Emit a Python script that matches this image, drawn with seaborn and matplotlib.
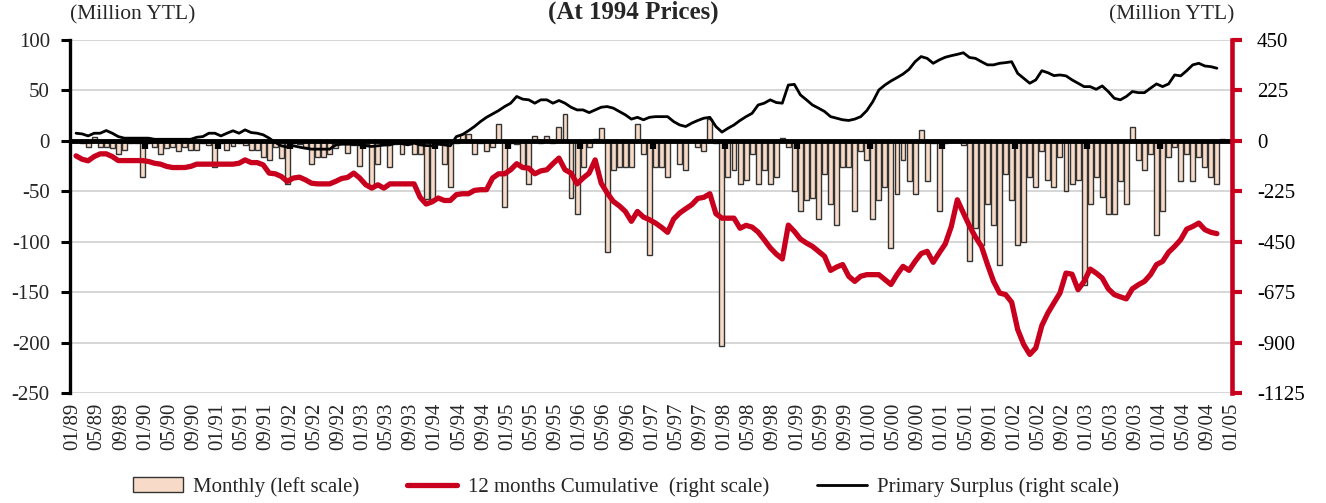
import numpy as np
import pandas as pd
import matplotlib.pyplot as plt
import seaborn as sns
from matplotlib.patches import Patch
from matplotlib.lines import Line2D

nan = np.nan

# monthly balance, left scale (01/89 - 11/04)
monthly = [
    -1, -2, -6, 4, -6, -6, -7, -13, -9, -2, -2, -36,          # 1989
    -2, -6, -13, -7, -6, -10, -6, -9, -9, -2, -4, -26,        # 1990
    -2, -9, -5, -2, -4, -9, -9, -16, -19, -6, -17, -43,       # 1991
    -2, -3, -6, -23, -16, -16, -13, -7, -2, -12, -4, -25,     # 1992
    -3, -46, -23, -2, -26, -3, -13, -3, -13, -13, -58, -58,   # 1993
    -2, -23, -46, -2, 7, 7, -13, -2, -10, -6, 17, -66,        # 1994
    -2, -3, -27, -43, 5, -2, 5, -2, 14, 27, -57, -73,         # 1995
    -26, -6, 2, 13, -110, -29, -26, -26, -26, 17, -13, -113,  # 1996
    -26, -26, -36, -1, -23, -29, -1, -6, -10, 22, -2, -203,   # 1997
    -36, -29, -43, -39, -13, -43, -29, -43, -36, 3, -6, -50,  # 1998
    -70, -59, -57, -77, -33, -63, -83, -26, -26, -70, -10, -19,   # 1999
    -77, -59, -46, -106, -53, -19, -40, -53, 11, -40, -2, -70,    # 2000
    -2, -1, -1, -4, -119, -86, -103, -63, -83, -123, -33, -59,    # 2001
    -103, -100, -36, -46, -10, -39, -46, -16, -50, -43, -39, -143,  # 2002
    -63, -36, -56, -73, -73, -40, -63, 14, -19, -29, -13, -93,    # 2003
    -70, -16, -6, -40, -13, -40, -16, -26, -36, -43, 2,           # 2004
]

# 12 months cumulative, right scale
cumulative = [
    -67, -82, -89, -70, -58, -58, -70, -88, -88, -88, -88, -88,
    -92, -100, -104, -114, -119, -119, -119, -114, -104, -104, -104, -104,
    -104, -104, -104, -100, -85, -97, -97, -107, -144, -147, -159, -181,
    -166, -162, -174, -189, -192, -192, -192, -181, -168, -163, -144, -166,
    -196, -211, -196, -211, -192, -192, -192, -192, -192, -252, -282, -272,
    -255, -266, -266, -240, -236, -236, -221, -218, -218, -166, -147, -147,
    -129, -102, -119, -122, -147, -134, -129, -102, -77, -129, -144, -192,
    -166, -144, -85, -189, -233, -270, -290, -315, -359, -315, -340, -352,
    -367, -386, -408, -349, -322, -303, -285, -257, -252, -236, -325, -345,
    -345, -345, -390, -377, -385, -407, -441, -477, -505, -527, -376, -404,
    -438, -456, -471, -493, -515, -578, -563, -552, -604, -627, -604, -597,
    -597, -597, -619, -641, -597, -560, -578, -538, -503, -493, -542, -500,
    -460, -382, -263, -322, -379, -429, -471, -552, -627, -679, -686, -720,
    -842, -909, -953, -924, -824, -768, -723, -679, -590, -595, -664, -627,
    -572, -590, -612, -660, -686, -696, -705, -660, -642, -627, -597, -552,
    -538, -497, -471, -441, -394, -382, -367, -396, -408, -414, nan,
]

# primary surplus, right scale
surplus = [
    34, 31, 22, 34, 34, 46, 34, 19, 12, 12, 12, 12,
    12, 7, 7, 7, 7, 7, 7, 7, 16, 19, 34, 34,
    22, 34, 45, 34, 49, 37, 34, 27, 12, -7, -22, -28,
    -22, -28, -33, -37, -37, -37, -37, -19, -15, -15, -15, -18,
    -22, -25, -22, -19, -18, -10, -13, -18, -10, -18, -21, -22,
    -15, -18, -22, 19, 28, 45, 64, 86, 105, 120, 135, 153,
    168, 198, 186, 183, 168, 183, 183, 168, 180, 168, 150, 138,
    138, 126, 138, 150, 153, 146, 131, 116, 97, 105, 94, 105,
    108, 108, 108, 86, 71, 64, 79, 91, 101, 105, 64, 39,
    56, 71, 91, 108, 123, 160, 168, 183, 171, 168, 249, 252,
    205, 183, 160, 146, 131, 108, 101, 94, 91, 97, 108, 135,
    175, 227, 249, 267, 282, 298, 319, 353, 376, 368, 346, 361,
    373, 380, 386, 393, 372, 368, 353, 339, 339, 346, 349, 353,
    301, 279, 257, 272, 313, 304, 291, 294, 290, 272, 257, 242,
    242, 230, 245, 220, 190, 183, 198, 220, 215, 215, 235, 254,
    242, 254, 294, 290, 313, 339, 346, 334, 331, 324, nan,
]

tick_labels = pd.date_range('1989-01', '2005-01', freq='4MS').strftime('%m/%y').tolist()

df = pd.DataFrame({
    'pos': np.arange(len(monthly)) + 0.5,
    'monthly': monthly,
    'cumulative': cumulative,
    'surplus': surplus,
})

BAR = '#F7DBC8'
EDGE = '#333333'
RED = '#C8001E'
GRID = '#D3D3D3'

sns.set_style('white')
plt.rcParams['font.family'] = ['Liberation Serif', 'DejaVu Serif']
plt.rcParams['axes.unicode_minus'] = False

fig = plt.figure(figsize=(13.26, 5.03), dpi=100)
ax = fig.add_axes([0.0528, 0.2187, 0.8763, 0.7018])

sns.barplot(data=df, x='pos', y='monthly', native_scale=True, color=BAR,
            saturation=1, edgecolor=EDGE, linewidth=1.0, width=0.82,
            errorbar=None, ax=ax, zorder=2)

ax.set_xlim(-0.5, 192)
ax.set_ylim(-250, 100)
ax.set_yticks(np.arange(-250, 101, 50))
ax.set_xticks(np.arange(0, 193, 4))
ax.set_xticklabels(tick_labels, rotation=90, fontsize=15)
ax.set_xticks(np.arange(0, 193, 12), minor=True)
ax.set_xlabel('')
ax.set_ylabel('')
ax.set_axisbelow(True)
ax.grid(axis='y', which='major', color=GRID, lw=1.3)
ax.grid(axis='x', which='minor', color=GRID, lw=1.3)
ax.grid(axis='x', which='major', visible=False)
ax.tick_params(axis='x', which='both', length=0, pad=7)
ax.tick_params(axis='y', direction='out', length=6.5, width=2.2, pad=8,
               labelsize=15, color='black')
for s in ['top', 'right', 'bottom']:
    ax.spines[s].set_visible(False)
ax.spines['left'].set_linewidth(2.4)
ax.spines['left'].set_color('black')

# category axis at zero with yearly tick marks
ax.axhline(0, color='black', lw=3.5, zorder=3)
ax.vlines(np.arange(12, 192, 12), -8, 0, color='black', lw=4.5, zorder=3)

ax2 = ax.twinx()
sns.lineplot(data=df, x='pos', y='cumulative', ax=ax2, color=RED, linewidth=3.8)
sns.lineplot(data=df, x='pos', y='surplus', ax=ax2, color='black', linewidth=2)
ax2.set_ylim(-1125, 450)
ax2.set_yticks(np.arange(-1125, 451, 225))
ax2.set_ylabel('')
ax2.set_xlim(-0.5, 192)
ax2.tick_params(axis='y', direction='out', length=7, width=3, color=RED,
                labelcolor='black', pad=11, labelsize=15)
for s in ['top', 'left', 'bottom']:
    ax2.spines[s].set_visible(False)
ax2.spines['right'].set_linewidth(3.3)
ax2.spines['right'].set_color(RED)

fig.text(133 / 1326, 1 - 15 / 503, '(Million YTL)', ha='center', va='center', fontsize=15.5)
fig.text(1172 / 1326, 1 - 15 / 503, '(Million YTL)', ha='center', va='center', fontsize=15.5)
fig.text(633 / 1326, 1 - 19 / 503, '(At 1994 Prices)', ha='center', va='baseline',
         fontsize=18, fontweight='bold')

handles = [
    Patch(facecolor=BAR, edgecolor=EDGE, linewidth=1.0),
    Line2D([], [], color=RED, lw=3.8),
    Line2D([], [], color='black', lw=2),
]
labels = ['Monthly (left scale)', '12 months Cumulative  (right scale)',
          'Primary Surplus (right scale)']
fig.legend(handles, labels, loc='center', bbox_to_anchor=(0.472, 0.032), ncol=3,
           frameon=False, fontsize=15, handlelength=2.4, columnspacing=2.3,
           handletextpad=0.5)

fig.savefig('out.png', dpi=100)
